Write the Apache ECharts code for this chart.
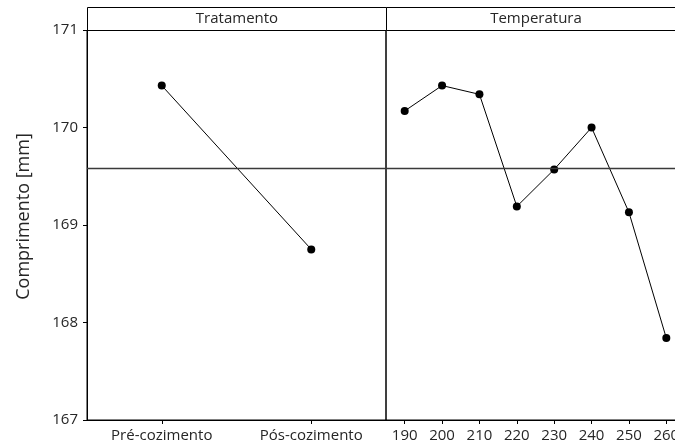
<!DOCTYPE html>
<html>
<head>
<meta charset="utf-8">
<script src="https://cdn.jsdelivr.net/npm/echarts@6/dist/echarts.min.js"></script>
<style>
  html, body { margin: 0; padding: 0; background: #fff; overflow: hidden; width: 675px; height: 447px; }
  /* the drawing surface is wider than the window so the last panel runs off the right edge */
  #chart { width: 700px; height: 447px; }
</style>
</head>
<body>
<div id="chart"></div>
<script>
// Main effects for comprimento (length, mm)
const panelTitles = ['Tratamento', 'Temperatura'];
const tratamentoCats = ['Pré-cozimento', 'Pós-cozimento'];
const tratamentoMeans = [170.43, 168.75];
const temperaturaCats = ['190', '200', '210', '220', '230', '240', '250', '260'];
const temperaturaMeans = [170.17, 170.43, 170.34, 169.19, 169.57, 170.00, 169.13, 167.84];
const grandMean = 169.58;
const yTicks = { min: 167, max: 171, step: 1 };
const yTitle = 'Comprimento [mm]';

const FONT = 'Open Sans';
const TXT = '#262626';

const chart = echarts.init(document.getElementById('chart'), null, { renderer: 'canvas' });

const panelLeft = 87, panelW = 299, plotTop = 30, plotH = 390, headTop = 7;

function xAxisFor(idx, cats) {
  return {
    type: 'category', gridIndex: idx, data: cats, boundaryGap: true,
    axisLine: { show: true, onZero: false, lineStyle: { color: '#000', width: 1 } },
    axisTick: { show: true, alignWithLabel: true, inside: false, length: 4, lineStyle: { color: '#000' } },
    axisLabel: { color: TXT, fontFamily: FONT, fontSize: 15, margin: 8, interval: 0 },
    splitLine: { show: false }
  };
}

function yAxisFor(idx, showLabels) {
  return {
    type: 'value', gridIndex: idx, min: yTicks.min, max: yTicks.max, interval: yTicks.step,
    name: showLabels ? yTitle : '', nameLocation: 'middle', nameGap: 54, nameRotate: 90,
    nameTextStyle: { color: TXT, fontFamily: FONT, fontSize: 18, padding: [0, 0, 0, 17] },
    axisLine: { show: showLabels, lineStyle: { color: '#000' } },
    axisTick: { show: showLabels, inside: false, length: 4, lineStyle: { color: '#000' } },
    axisLabel: { show: showLabels, color: TXT, fontFamily: FONT, fontSize: 15, margin: 9 },
    splitLine: { show: false }
  };
}

function effectSeries(idx, values) {
  return {
    type: 'line', xAxisIndex: idx, yAxisIndex: idx, data: values,
    symbol: 'circle', symbolSize: 8, showSymbol: true,
    itemStyle: { color: '#000' },
    lineStyle: { color: '#000', width: 1 },
    animation: false,
    markLine: {
      silent: true, symbol: 'none', animation: false,
      label: { show: false },
      lineStyle: { color: '#3a3a3a', width: 1.3, type: 'solid' },
      data: [{ yAxis: grandMean }]
    }
  };
}

const headers = panelTitles.map((t, i) => ({
  type: 'group',
  left: panelLeft + i * panelW, top: headTop,
  children: [
    { type: 'rect', shape: { x: 0, y: 0, width: panelW, height: plotTop - headTop },
      style: { fill: '#fff', stroke: '#000', lineWidth: 1 } },
    { type: 'text', x: panelW / 2, y: (plotTop - headTop) / 2,
      style: { text: t, fill: TXT, font: '15px "' + FONT + '"', textAlign: 'center', textVerticalAlign: 'middle' } }
  ]
}));

chart.setOption({
  backgroundColor: '#fff',
  animation: false,
  grid: [
    { left: panelLeft, top: plotTop, width: panelW, height: plotH, show: true, borderColor: '#000', borderWidth: 1, backgroundColor: 'transparent' },
    { left: panelLeft + panelW, top: plotTop, width: panelW, height: plotH, show: true, borderColor: '#000', borderWidth: 1, backgroundColor: 'transparent' }
  ],
  xAxis: [xAxisFor(0, tratamentoCats), xAxisFor(1, temperaturaCats)],
  yAxis: [yAxisFor(0, true), yAxisFor(1, false)],
  series: [effectSeries(0, tratamentoMeans), effectSeries(1, temperaturaMeans)],
  graphic: headers
});
</script>
</body>
</html>
